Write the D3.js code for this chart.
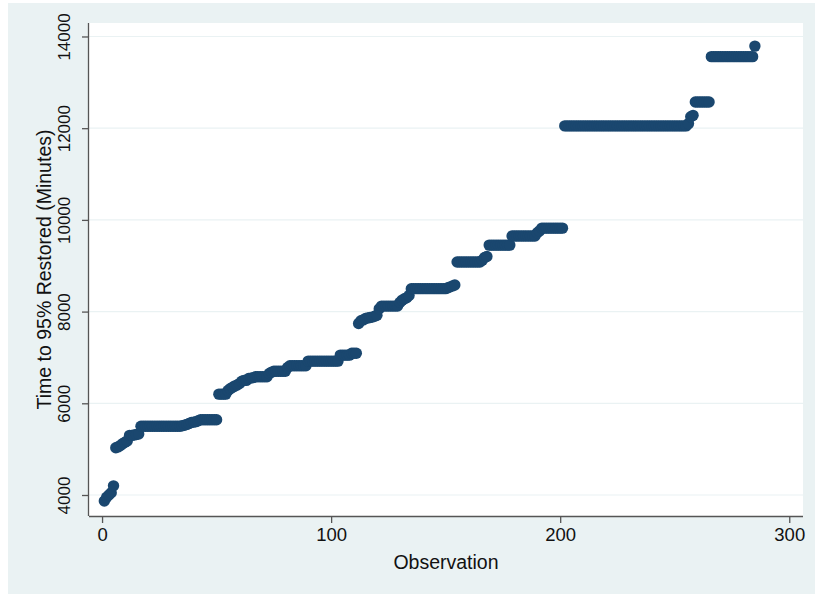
<!DOCTYPE html>
<html>
<head>
<meta charset="utf-8">
<script src="https://cdn.jsdelivr.net/npm/d3@7/dist/d3.min.js"></script>
<style>
  html, body { margin: 0; padding: 0; background: #ffffff; }
  svg { display: block; }
  text { font-family: "Liberation Sans", Arial, Helvetica, sans-serif; fill: #111; }
</style>
</head>
<body>
<svg id="chart" width="815" height="594"></svg>
<script>
// Time to 95% restoration, sorted, one value per observation (1..285)
const restoreMinutes = [
  // observations 1-50
  3870, 3950, 4000, 4050, 4200,
  5030, 5050, 5080, 5120, 5150, 5180,
  5300, 5300, 5310, 5320, 5330,
  5500, 5500, 5500, 5500, 5500, 5500, 5500, 5500, 5500,
  5500, 5500, 5500, 5500, 5500, 5500, 5500, 5500, 5500,
  5510, 5520, 5540, 5560, 5580, 5590, 5600, 5620,
  5640, 5640, 5640, 5640, 5640, 5640, 5640, 5640,
  // observations 51-111
  6200, 6200, 6200, 6200,
  6280, 6320, 6350, 6380, 6400, 6430,
  6480, 6500, 6500,
  6540, 6550, 6560,
  6580, 6580, 6580, 6580, 6580, 6580,
  6650, 6680, 6700,
  6700, 6700, 6700, 6700, 6700,
  6780,
  6820, 6820, 6820, 6820, 6820, 6820, 6820, 6820,
  6920, 6920, 6920, 6920, 6920, 6920, 6920,
  6920, 6920, 6920, 6920, 6920, 6920, 6920,
  7050, 7050, 7050, 7050, 7050,
  7090, 7090, 7090,
  // observations 112-154
  7740,
  7800, 7820, 7850, 7860, 7870, 7880, 7900, 7920,
  8060,
  8120, 8120, 8120, 8120, 8120, 8120, 8120, 8120,
  8200, 8250, 8280, 8300,
  8350,
  8500, 8500, 8500, 8500, 8500, 8500, 8500, 8500,
  8500, 8500, 8500, 8500, 8500, 8500, 8500, 8500,
  8520, 8540, 8560, 8580,
  // observations 155-201
  9080, 9080, 9080, 9080, 9080, 9080, 9080, 9080, 9080, 9080, 9080,
  9120, 9180, 9200,
  9450, 9450, 9450, 9450, 9450, 9450, 9450, 9450, 9450, 9450,
  9650, 9650, 9650, 9650, 9650, 9650, 9650, 9650, 9650, 9650, 9650,
  9720, 9760,
  9820, 9820, 9820, 9820, 9820, 9820, 9820, 9820, 9820, 9820,
  // observations 202-285
  12050, 12050, 12050, 12050, 12050, 12050, 12050, 12050, 12050,
  12050, 12050, 12050, 12050, 12050, 12050, 12050, 12050, 12050,
  12050, 12050, 12050, 12050, 12050, 12050, 12050, 12050, 12050,
  12050, 12050, 12050, 12050, 12050, 12050, 12050, 12050, 12050,
  12050, 12050, 12050, 12050, 12050, 12050, 12050, 12050, 12050,
  12050, 12050, 12050, 12050, 12050, 12050, 12050, 12050, 12050,
  12100, 12250, 12280,
  12570, 12570, 12570, 12570, 12570, 12570, 12570,
  13560, 13560, 13560, 13560, 13560, 13560, 13560, 13560, 13560, 13560,
  13560, 13560, 13560, 13560, 13560, 13560, 13560, 13560, 13560,
  13790
];

const xTicks = [0, 100, 200, 300];
const yTicks = [4000, 6000, 8000, 10000, 12000, 14000];
const xTitle = "Observation";
const yTitle = "Time to 95% Restored (Minutes)";

const points = restoreMinutes.map((v, i) => ({ obs: i + 1, value: v }));

const svg = d3.select("#chart");
const W = 815, H = 594;
const plot = { left: 89, right: 803, top: 23, bottom: 516 };

// outer graph region
svg.append("rect")
  .attr("x", 8).attr("y", 3)
  .attr("width", W - 8).attr("height", H - 3)
  .attr("fill", "#eaf2f3");

// plot region
svg.append("rect")
  .attr("x", plot.left).attr("y", plot.top)
  .attr("width", plot.right - plot.left).attr("height", plot.bottom - plot.top)
  .attr("fill", "#ffffff");

const x = d3.scaleLinear().domain([-5.7, 306]).range([plot.left, plot.right]);
const y = d3.scaleLinear().domain([3542, 14294]).range([plot.bottom, plot.top]);

// horizontal grid
svg.append("g")
  .selectAll("line")
  .data(yTicks)
  .join("line")
  .attr("x1", plot.left).attr("x2", plot.right)
  .attr("y1", d => y(d)).attr("y2", d => y(d))
  .attr("stroke", "#eaf2f3")
  .attr("stroke-width", 1.2);

// points
svg.append("g")
  .selectAll("circle")
  .data(points)
  .join("circle")
  .attr("cx", d => x(d.obs))
  .attr("cy", d => y(d.value))
  .attr("r", 5.7)
  .attr("fill", "#1a476f");

// x axis
const xAxis = svg.append("g")
  .attr("transform", `translate(0,${plot.bottom})`)
  .call(d3.axisBottom(x).tickValues(xTicks).tickSize(7).tickPadding(5).tickSizeOuter(0));
xAxis.select(".domain").attr("stroke", "#555").attr("stroke-width", 1.3)
  .attr("d", `M${plot.left},0.5H${plot.right}`);
xAxis.selectAll(".tick line").attr("stroke", "#555").attr("stroke-width", 1.3);
xAxis.selectAll(".tick text")
  .attr("font-size", 18.5)
  .attr("fill", "#111")
  .attr("font-family", "Liberation Sans, Arial, sans-serif");

// y axis
const yAxis = svg.append("g")
  .attr("transform", `translate(${plot.left},0)`)
  .call(d3.axisLeft(y).tickValues(yTicks).tickFormat(d3.format("d")).tickSize(7).tickSizeOuter(0));
yAxis.select(".domain").attr("stroke", "#555").attr("stroke-width", 1.3)
  .attr("d", `M-0.5,${plot.top}V${plot.bottom}`);
yAxis.selectAll(".tick line").attr("stroke", "#555").attr("stroke-width", 1.3);
yAxis.selectAll(".tick text")
  .attr("font-size", 17)
  .attr("fill", "#111")
  .attr("font-family", "Liberation Sans, Arial, sans-serif")
  .attr("text-anchor", "middle")
  .attr("x", null)
  .attr("dy", null)
  .attr("transform", "translate(-19,0) rotate(-90)");

// axis titles
svg.append("text")
  .attr("x", (plot.left + plot.right) / 2)
  .attr("y", 569)
  .attr("text-anchor", "middle")
  .attr("font-size", 19.5)
  .text(xTitle);

svg.append("text")
  .attr("transform", `translate(51,${(plot.top + plot.bottom) / 2}) rotate(-90)`)
  .attr("text-anchor", "middle")
  .attr("font-size", 19.5)
  .text(yTitle);
</script>
</body>
</html>
